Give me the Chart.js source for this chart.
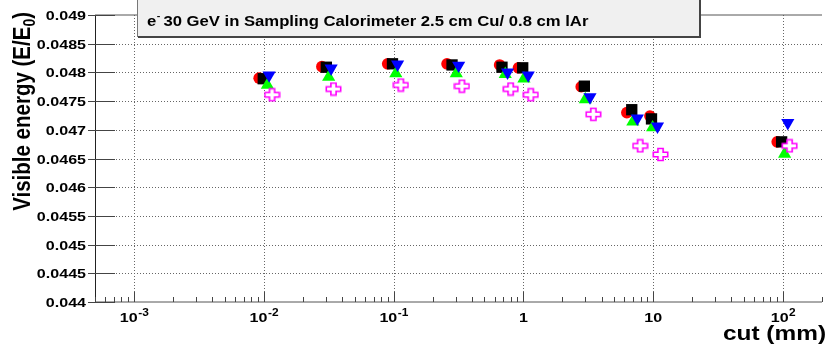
<!DOCTYPE html>
<html>
<head>
<meta charset="utf-8">
<script src="https://cdn.jsdelivr.net/npm/chart.js@4.4.1/dist/chart.umd.min.js"></script>
<style>
  html, body { margin: 0; padding: 0; overflow: hidden; background: #fff; }
  #wrap { width: 830px; height: 350px; }
</style>
</head>
<body>
<div id="wrap"><canvas id="c" width="830" height="350"></canvas></div>
<script>
// Visible energy fraction vs. production cut, one array pair per marker set
const cutsCircle   = [0.0092, 0.028, 0.090, 0.258, 0.656, 0.916, 2.79, 6.27, 9.44, 90.3];
const energyCircle = [0.04790, 0.04810, 0.04815, 0.04815, 0.04813, 0.04808, 0.04775, 0.04730, 0.04724, 0.04679];

const cutsSquare   = [0.0099, 0.0303, 0.098, 0.282, 0.684, 0.988, 2.95, 6.84, 9.71, 97.7];
const energySquare = [0.04789, 0.04809, 0.04815, 0.04813, 0.04809, 0.04808, 0.04776, 0.04735, 0.04719, 0.04679];

const cutsTriUp    = [0.01065, 0.0316, 0.104, 0.304, 0.725, 1.01, 3.00, 6.97, 9.90, 103];
const energyTriUp  = [0.04778, 0.04792, 0.04798, 0.04798, 0.04797, 0.04789, 0.04753, 0.04714, 0.04704, 0.04658];

const cutsTriDown   = [0.01098, 0.0330, 0.1073, 0.317, 0.755, 1.09, 3.26, 7.55, 10.8, 109];
const energyTriDown = [0.04795, 0.04807, 0.04814, 0.04812, 0.04800, 0.04795, 0.04757, 0.04720, 0.04706, 0.04712];

const cutsCross    = [0.01157, 0.0344, 0.1137, 0.336, 0.798, 1.14, 3.46, 7.94, 11.4, 112.5];
const energyCross  = [0.04761, 0.04771, 0.04778, 0.04776, 0.04771, 0.04761, 0.04727, 0.04672, 0.04657, 0.04672];

// Axis ranges and tick labels
const xRange = [5e-4, 200];
const yRange = [0.044, 0.049];
const yTickValues = [0.044, 0.0445, 0.045, 0.0455, 0.046, 0.0465, 0.047, 0.0475, 0.048, 0.0485, 0.049];
const yTickLabels = ['0.044', '0.0445', '0.045', '0.0455', '0.046', '0.0465', '0.047', '0.0475', '0.048', '0.0485', '0.049'];
const xDecades = [1e-3, 1e-2, 1e-1, 1, 10, 100];
const xDecadeLabels = [['10', '-3'], ['10', '-2'], ['10', '-1'], ['1', ''], ['10', ''], ['10', '2']];

const titleMain = 'e';
const titleSup = '-';
const titleRest = ' 30 GeV in Sampling Calorimeter 2.5 cm Cu/ 0.8 cm lAr';
const yTitle = ['Visible energy (E/E', '0', ')'];
const xTitle = 'cut (mm)';

const FONT = '"Liberation Sans", Arial, Helvetica, sans-serif';
const SX = 1.19; // horizontal widening of all text

function toPoints(xs, ys) { return xs.map((v, i) => ({ x: v, y: ys[i] })); }

// open cross marker
function makeCross() {
  const cv = document.createElement('canvas');
  cv.width = 17; cv.height = 15;
  const g = cv.getContext('2d');
  const cx = 8.5, cy = 7.5, W = 7.2, H = 6.0, a = 2.6, b = 2.2;
  g.beginPath();
  g.moveTo(cx - a, cy - H); g.lineTo(cx + a, cy - H); g.lineTo(cx + a, cy - b);
  g.lineTo(cx + W, cy - b); g.lineTo(cx + W, cy + b); g.lineTo(cx + a, cy + b);
  g.lineTo(cx + a, cy + H); g.lineTo(cx - a, cy + H); g.lineTo(cx - a, cy + b);
  g.lineTo(cx - W, cy + b); g.lineTo(cx - W, cy - b); g.lineTo(cx - a, cy - b);
  g.closePath();
  g.fillStyle = '#ffffff'; g.fill();
  g.strokeStyle = '#ff00ff'; g.lineWidth = 1.6; g.stroke();
  return cv;
}

function wideText(ctx, text, x, y, size, align) {
  ctx.save();
  ctx.font = 'bold ' + size + 'px ' + FONT;
  ctx.translate(x, y);
  ctx.scale(SX, 1);
  ctx.textAlign = align || 'left';
  ctx.fillText(text, 0, 0);
  ctx.restore();
}
function textWidth(ctx, text, size) {
  ctx.save();
  ctx.font = 'bold ' + size + 'px ' + FONT;
  const w = ctx.measureText(text).width * SX;
  ctx.restore();
  return w;
}

const rootFrame = {
  id: 'rootFrame',
  beforeDatasetsDraw(chart) {
    const { ctx, chartArea: a, scales: { x, y } } = chart;
    ctx.save();
    // dotted grid
    ctx.strokeStyle = '#666';
    ctx.lineWidth = 1;
    ctx.setLineDash([1, 2]);
    for (let i = 1; i < yTickValues.length - 1; i++) {
      const py = Math.round(y.getPixelForValue(yTickValues[i])) + 0.5;
      ctx.beginPath(); ctx.moveTo(a.left, py); ctx.lineTo(a.right, py); ctx.stroke();
    }
    xDecades.forEach(v => {
      const px = Math.round(x.getPixelForValue(v)) + 0.5;
      ctx.beginPath(); ctx.moveTo(px, a.top); ctx.lineTo(px, a.bottom); ctx.stroke();
    });
    ctx.setLineDash([]);

    // frame
    ctx.strokeStyle = '#555';
    ctx.beginPath(); ctx.moveTo(a.left, a.top); ctx.lineTo(a.right, a.top); ctx.stroke();
    ctx.beginPath(); ctx.moveTo(a.left, a.bottom); ctx.lineTo(a.right, a.bottom); ctx.stroke();
    ctx.strokeStyle = '#222';
    ctx.beginPath(); ctx.moveTo(a.left + 0.5, a.top); ctx.lineTo(a.left + 0.5, a.bottom); ctx.stroke();

    // y ticks
    ctx.strokeStyle = '#444';
    yTickValues.forEach(v => {
      const py = Math.round(y.getPixelForValue(v)) + 0.5;
      ctx.beginPath(); ctx.moveTo(a.left - 7, py); ctx.lineTo(a.left + 20, py); ctx.stroke();
    });

    // x ticks: decades long, 2..9 short
    for (let e = -4; e <= 2; e++) {
      for (let k = 1; k <= 9; k++) {
        const v = k * Math.pow(10, e);
        if (v < x.min * 0.999 || v > x.max * 1.001) continue;
        const px = Math.round(x.getPixelForValue(v)) + 0.5;
        const len = k === 1 ? 10 : 5;
        ctx.beginPath(); ctx.moveTo(px, a.bottom); ctx.lineTo(px, a.bottom - len); ctx.stroke();
      }
    }
    ctx.restore();
  },
  afterDraw(chart) {
    const { ctx, chartArea: a, scales: { x, y } } = chart;
    ctx.save();
    ctx.fillStyle = '#000';
    ctx.textBaseline = 'alphabetic';

    // y tick labels
    yTickValues.forEach((v, i) => {
      const py = y.getPixelForValue(v);
      wideText(ctx, yTickLabels[i], a.left - 9, py + 5, 13.5, 'right');
    });

    // x tick labels with exponents
    xDecades.forEach((v, i) => {
      const px = x.getPixelForValue(v);
      const [base, sup] = xDecadeLabels[i];
      const wb = textWidth(ctx, base, 13.5);
      const ws = sup ? textWidth(ctx, sup, 10) : 0;
      const start = px - (wb + ws) / 2;
      wideText(ctx, base, start, 322, 13.5, 'left');
      if (sup) wideText(ctx, sup, start + wb + 0.5, 315.5, 10, 'left');
    });

    // axis titles
    wideText(ctx, xTitle, 826, 340, 20.5, 'right');

    ctx.save();
    ctx.translate(30, 12);
    ctx.rotate(-Math.PI / 2);
    ctx.scale(1, SX);
    ctx.font = 'bold 20.5px ' + FONT;
    const w1 = ctx.measureText(yTitle[0]).width;
    ctx.font = 'bold 14px ' + FONT;
    const w2 = ctx.measureText(yTitle[1]).width;
    ctx.font = 'bold 20.5px ' + FONT;
    const w3 = ctx.measureText(yTitle[2]).width;
    const s0 = -(w1 + w2 + w3);
    ctx.textAlign = 'left';
    ctx.fillText(yTitle[0], s0, 0);
    ctx.font = 'bold 14px ' + FONT;
    ctx.fillText(yTitle[1], s0 + w1, 4);
    ctx.font = 'bold 20.5px ' + FONT;
    ctx.fillText(yTitle[2], s0 + w1 + w2, 0);
    ctx.restore();

    // title box
    const bx = 137, by = -1, bw = 562, bh = 37;
    ctx.fillStyle = '#f0f0f0';
    ctx.fillRect(bx, by, bw, bh);
    ctx.strokeStyle = '#777';
    ctx.lineWidth = 1;
    ctx.strokeRect(bx + 0.5, by + 0.5, bw, bh);
    ctx.fillStyle = '#444';
    ctx.fillRect(bx + bw, by, 2, bh + 2);
    ctx.fillRect(bx + 1, by + bh, bw + 1, 2);
    ctx.fillStyle = '#000';
    const tx = 147;
    wideText(ctx, titleMain, tx, 26, 14, 'left');
    const we = textWidth(ctx, titleMain, 14);
    wideText(ctx, titleSup, tx + we + 0.5, 19, 9, 'left');
    wideText(ctx, titleRest, tx + we + 2.5, 26, 14, 'left');
    ctx.restore();
  }
};

const crossMarker = makeCross();

new Chart(document.getElementById('c'), {
  type: 'scatter',
  data: {
    datasets: [
      { data: toPoints(cutsCross, energyCross), pointStyle: crossMarker, pointRadius: 7, order: 1 },
      { data: toPoints(cutsTriDown, energyTriDown), pointStyle: 'triangle', rotation: 180, pointRadius: 7.6,
        backgroundColor: '#0000ff', borderWidth: 0, order: 2 },
      { data: toPoints(cutsTriUp, energyTriUp), pointStyle: 'triangle', pointRadius: 7.6,
        backgroundColor: '#00ff00', borderWidth: 0, order: 3 },
      { data: toPoints(cutsSquare, energySquare), pointStyle: 'rect', pointRadius: 8,
        backgroundColor: '#000000', borderWidth: 0, order: 4 },
      { data: toPoints(cutsCircle, energyCircle), pointStyle: 'circle', pointRadius: 5.8,
        backgroundColor: '#ff0000', borderWidth: 0, order: 5 }
    ]
  },
  options: {
    responsive: false,
    animation: false,
    events: [],
    layout: { padding: { left: 95, top: 15, right: 1, bottom: 48 } },
    plugins: { legend: { display: false }, tooltip: { enabled: false }, title: { display: false } },
    scales: {
      x: { type: 'logarithmic', min: xRange[0], max: xRange[1], display: false, bounds: 'data' },
      y: { type: 'linear', min: yRange[0], max: yRange[1], display: false, bounds: 'data' }
    },
    elements: { point: { hoverRadius: 0 } }
  },
  plugins: [rootFrame]
});
</script>
</body>
</html>
